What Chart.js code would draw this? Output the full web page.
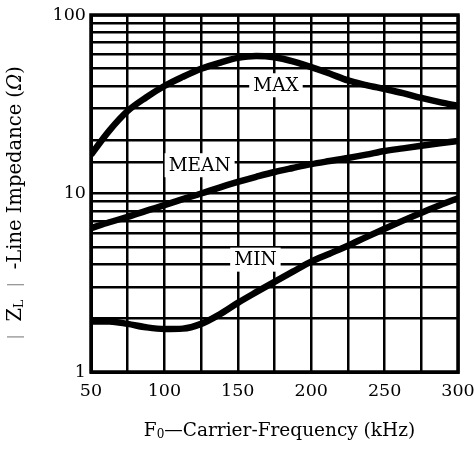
<!DOCTYPE html>
<html><head><meta charset="utf-8">
<script src="https://cdn.jsdelivr.net/npm/chart.js@4"></script>
<style>html,body{margin:0;padding:0;background:#fff}</style>
</head><body>
<canvas id="c" width="474" height="450" style="width:474px;height:450px;display:block"></canvas>
<script>
// ---- data ----
const freqKHz = [50, 62.5, 75, 87.5, 100, 112.5, 125, 137.5, 150, 162.5, 175, 187.5, 200, 212.5, 225, 237.5, 250, 262.5, 275, 287.5, 300];
const maxZ  = [16.5, 22.5, 29, 34.5, 40, 45, 50, 54, 57.5, 59, 58, 55, 51, 47, 43, 40.5, 38.5, 36.5, 34.3, 32.5, 31];
const meanZ = [6.4, 6.9, 7.4, 8.0, 8.6, 9.3, 10.0, 10.8, 11.6, 12.4, 13.2, 13.9, 14.6, 15.2, 15.8, 16.5, 17.3, 17.9, 18.5, 19.1, 19.7];
const minZ  = [1.92, 1.92, 1.86, 1.78, 1.74, 1.75, 1.86, 2.1, 2.44, 2.8, 3.2, 3.65, 4.15, 4.6, 5.1, 5.7, 6.35, 7.05, 7.8, 8.6, 9.4];
const xTickLabels = [50, 100, 150, 200, 250, 300];
const yTickLabels = [1, 10, 100];
const curveNames = ['MAX', 'MEAN', 'MIN'];
const curveNameAt = [[176, 40.4], [124, 14.4], [162, 4.26]]; // data coords (kHz, ohm)

const SERIF = '"DejaVu Serif", "Liberation Serif", serif';
const pts = arr => freqKHz.map((f, i) => ({x: f, y: arr[i]}));

const curveLabelPlugin = {
  id: 'curveLabels',
  beforeDatasetsDraw(chart) {
    const {ctx, scales: {x, y}} = chart;
    ctx.save();
    ctx.font = '18.5px ' + SERIF;
    ctx.textAlign = 'center';
    ctx.textBaseline = 'middle';
    curveNames.forEach((name, i) => {
      const px = x.getPixelForValue(curveNameAt[i][0]);
      const py = y.getPixelForValue(curveNameAt[i][1]);
      const w = ctx.measureText(name).width;
      ctx.fillStyle = '#fff';
      ctx.fillRect(px - w / 2 - 4, py - 12, w + 8, 24);
      ctx.fillStyle = '#000';
      ctx.fillText(name, px, py + 1);
    });
    ctx.restore();
  }
};

function drawSegments(ctx, segs, cx, cy) {
  let total = 0;
  segs.forEach(s => { ctx.font = s.font; s.w = ctx.measureText(s.t).width; total += s.w; });
  let xx = cx - total / 2;
  segs.forEach(s => {
    ctx.font = s.font;
    ctx.fillStyle = s.color || '#000';
    ctx.fillText(s.t, xx, cy + (s.dy || 0));
    xx += s.w;
  });
}

const titlePlugin = {
  id: 'axisTitles',
  afterDraw(chart) {
    const {ctx, chartArea: a} = chart;
    ctx.save();
    // frame
    ctx.strokeStyle = '#000';
    ctx.lineWidth = 3.5;
    ctx.strokeRect(a.left, a.top, a.right - a.left, a.bottom - a.top);
    ctx.textBaseline = 'middle';
    ctx.textAlign = 'left';
    const fx = '18.5px ' + SERIF, fxs = '12px ' + SERIF;
    drawSegments(ctx, [
      {t: 'F', font: fx},
      {t: '0', font: fxs, dy: 4},
      {t: '\u2014Carrier-Frequency (kHz)', font: fx}
    ], (a.left + a.right) / 2 + 5, 431);
    const fy = '19.5px ' + SERIF, fys = '12.5px ' + SERIF;
    ctx.translate(16, 203);
    ctx.rotate(-Math.PI / 2);
    drawSegments(ctx, [
      {t: '|', font: '17px ' + SERIF, color: '#999'},
      {t: '  Z', font: fy},
      {t: 'L', font: fys, dy: 4},
      {t: '  ', font: fy},
      {t: '|', font: '17px ' + SERIF, color: '#999'},
      {t: '  -Line Impedance (', font: fy},
      {t: '\u03A9', font: 'italic 19.5px ' + SERIF},
      {t: ')', font: fy}
    ], 0, 0);
    ctx.restore();
  }
};

const tickFont = {family: SERIF, size: 17.5};
new Chart(document.getElementById('c'), {
  type: 'line',
  data: {
    datasets: [
      {label: 'MAX', data: pts(maxZ)},
      {label: 'MEAN', data: pts(meanZ)},
      {label: 'MIN', data: pts(minZ)}
    ]
  },
  options: {
    responsive: false,
    animation: false,
    devicePixelRatio: 1,
    layout: {padding: {top: 15, right: 16, left: 0, bottom: 0}},
    plugins: {legend: {display: false}, tooltip: {enabled: false}},
    elements: {
      point: {radius: 0},
      line: {borderWidth: 6.5, borderColor: '#000', tension: 0.4, cubicInterpolationMode: 'monotone', fill: false, borderCapStyle: 'butt'}
    },
    scales: {
      x: {
        type: 'linear', min: 50, max: 300,
        ticks: {
          stepSize: 25, autoSkip: false, maxRotation: 0, color: '#000', font: tickFont, padding: 9,
          callback: v => xTickLabels.includes(v) ? String(v) : ''
        },
        grid: {color: '#000', lineWidth: 2.5, drawTicks: false},
        border: {color: '#000', width: 3},
        afterFit: s => { s.height = 78; s.paddingLeft = 0; s.paddingRight = 0; }
      },
      y: {
        type: 'logarithmic', min: 1, max: 100,
        ticks: {
          autoSkip: false, color: '#000', font: tickFont, padding: 5,
          callback: v => yTickLabels.some(t => Math.abs(t - v) < 1e-6) ? String(v) : ''
        },
        grid: {color: '#000', lineWidth: 2.5, drawTicks: false},
        border: {color: '#000', width: 3},
        afterFit: s => { s.width = 91; s.paddingTop = 0; s.paddingBottom = 0; }
      }
    }
  },
  plugins: [curveLabelPlugin, titlePlugin]
});
</script>
</body></html>
